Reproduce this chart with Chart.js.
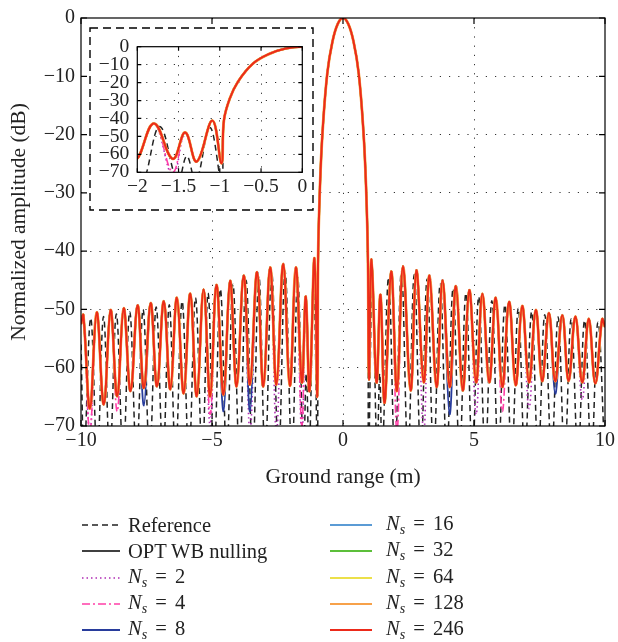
<!DOCTYPE html>
<html>
<head>
<meta charset="utf-8">
<script src="https://cdn.jsdelivr.net/npm/chart.js@4.4.1/dist/chart.umd.min.js"></script>
<style>
  html, body { margin: 0; padding: 0; background: #fff; }
  #wrap { position: relative; width: 618px; height: 642px; }
  #main { position: absolute; left: 0; top: 0; }
  #inset { position: absolute; left: 89px; top: 27px; background: #fff; }
  #legend { position: absolute; left: 0; top: 0; width: 618px; height: 642px; pointer-events: none;
            font-family: "Liberation Serif", "Times New Roman", serif; font-size: 20.5px; color: #222; }
  .item { position: absolute; height: 26px; display: flex; align-items: center; white-space: nowrap; }
  .item svg { margin-right: 8px; }
  .item sub { font-size: 14px; vertical-align: -4px; }
  .eq { word-spacing: 3px; }
</style>
</head>
<body>
<div id="wrap">
  <canvas id="main" width="618" height="642"></canvas>
  <canvas id="inset" width="225" height="184"></canvas>
  <div id="legend"></div>
</div>
<script>
// OPT WB nulling curve (Ns = 16 ... 246 lie on top of it): ground range (m) and amplitude (dB)
const optX = [-10, -9.91, -9.66, -9.40, -9.13, -8.87, -8.62, -8.37, -8.11, -7.84, -7.60, -7.34, -7.10, -6.84,
  -6.59, -6.34, -6.08, -5.83, -5.58, -5.32, -5.07, -4.83, -4.56, -4.31, -4.06, -3.79, -3.55, -3.28, -3.04,
  -2.78, -2.54, -2.28, -2.03, -1.80, -1.57, -1.42, -1.28, -1.09, -0.98, -0.95, -0.88, -0.78, -0.6, -0.4, -0.2,
  0, 0.2, 0.4, 0.6, 0.78, 0.88, 0.95, 0.99, 1.09, 1.28, 1.43, 1.59, 1.84, 2.06, 2.29, 2.58, 2.80, 3.08, 3.30,
  3.57, 3.80, 4.07, 4.31, 4.57, 4.82, 5.08, 5.32, 5.58, 5.83, 6.08, 6.34, 6.59, 6.84, 7.10, 7.36, 7.60, 7.86,
  8.10, 8.37, 8.61, 8.87, 9.13, 9.38, 9.63, 9.89, 10];
const optDb = [-52.5, -51, -67, -50.5, -66.3, -50.1, -64.9, -49.8, -64, -49.3, -63.5, -48.9, -63.2, -48.6,
  -63.7, -48, -64.4, -47.3, -64.9, -46.6, -64.9, -45.8, -64.6, -45.1, -63.2, -44.2, -62.9, -43.6, -63.2,
  -42.8, -62.9, -42.2, -63.1, -42.8, -62.5, -47.8, -64, -41.2, -65, -41, -29, -19.5, -9.5, -4, -1,
  0, -1, -4, -9.5, -19.5, -29, -41, -62, -41.4, -62.5, -47.5, -66, -43.5, -64, -42.6, -63.9, -43.3, -62.5, -44.2,
  -63.3, -45, -63.3, -46, -63.9, -46.7, -62.5, -47.3, -62.5, -48, -63.3, -48.7, -63, -49.4, -62.5, -50.1, -62.3, -50.6,
  -62.3, -51, -62.3, -51.2, -62.5, -51.6, -62.7, -51.7, -53];

// Reference (dashed): nulls fall below the -70 dB floor
const refX = [-10, -9.88, -9.63, -9.38, -9.14, -8.90, -8.65, -8.39, -8.14, -7.88, -7.63, -7.38, -7.13, -6.87,
  -6.63, -6.39, -6.14, -5.88, -5.63, -5.37, -5.15, -4.92, -4.68, -4.44, -4.20, -3.95, -3.70, -3.45, -3.21,
  -2.97, -2.72, -2.46, -2.21, -1.95, -1.73, -1.51, -1.40, -1.29, -1.12, -0.98, -0.95, -0.88, -0.78, -0.6, -0.4,
  -0.2, 0, 0.2, 0.4, 0.6, 0.78, 0.88, 0.95, 0.98, 1.12, 1.30, 1.40, 1.50, 1.74, 1.98, 2.23, 2.48, 2.72, 2.97,
  3.21, 3.46, 3.71, 3.96, 4.20, 4.45, 4.69, 4.94, 5.18, 5.43, 5.68, 5.93, 6.18, 6.44, 6.69, 6.94, 7.20, 7.45,
  7.70, 7.96, 8.21, 8.46, 8.71, 8.97, 9.22, 9.48, 9.73, 9.99];
const refDb = [-56, -75, -51.5, -75, -51.2, -75, -50.8, -75, -50.4, -75, -50, -75, -49.6, -75,
  -49.2, -75, -48.6, -75, -48, -75, -47.2, -75, -46.5, -75, -45.7, -75, -45, -75, -44.3,
  -75, -43.8, -75, -43.5, -75, -44.5, -75, -61, -75, -45, -75, -41, -29, -19.5, -9.5, -4,
  -1, 0, -1, -4, -9.5, -19.5, -29, -41, -75, -45, -75, -61, -75, -44.5, -75, -43.5, -75, -44, -75,
  -44.8, -75, -45.6, -75, -46.4, -75, -47.2, -75, -47.8, -75, -48.5, -75, -49.2, -75, -49.8, -75, -50.4, -75,
  -50.9, -75, -51.3, -75, -51.6, -75, -51.9, -75, -52.2, -75];

// Ns = 2, 4, 8 follow the OPT curve except at a few deeper nulls
const ns2DipX = [-9.66, -5.07, -3.55, -2.54, -1.57, 3.08, 5.08, 7.10, 9.13];
const ns2DipDb = [-71, -70, -71, -71, -72, -71, -68, -67, -65.5];
const ns4DipX = [-9.66, -8.62, -5.07, -1.57, 2.06, 6.08];
const ns4DipDb = [-71, -67.5, -68, -70, -71, -67.5];
const ns8DipX = [-7.60, -4.56, -3.55, 4.07, 8.10];
const ns8DipDb = [-66.5, -67.5, -67.5, -68, -64.5];

const seriesLabels = ["Reference", "OPT WB nulling", "Ns = 2", "Ns = 4", "Ns = 8",
  "Ns = 16", "Ns = 32", "Ns = 64", "Ns = 128", "Ns = 246"];
const seriesColors = ["#222222", "#000000", "#b02cb4", "#ff3fa8", "#283c9c",
  "#5b9bd5", "#5cbf3a", "#ece04a", "#f7a14a", "#ec2a1a"];

const xTicks = [-10, -5, 0, 5, 10];
const insetXTicks = [-2, -1.5, -1, -0.5, 0];

function toPoints(xs, ys) {
  return xs.map((x, i) => ({ x: x, y: ys[i] }));
}

function withDips(dipX, dipDb) {
  return optX.map((x, i) => {
    const k = dipX.indexOf(x);
    return { x: x, y: k >= 0 ? dipDb[k] : optDb[i] };
  });
}

function makeDatasets() {
  const optPts = toPoints(optX, optDb);
  const data = [toPoints(refX, refDb), optPts, withDips(ns2DipX, ns2DipDb), withDips(ns4DipX, ns4DipDb),
    withDips(ns8DipX, ns8DipDb), optPts, optPts, optPts, optPts, optPts];
  const dashes = [[6, 4], [], [1.5, 3], [8, 3, 2, 3], [], [], [], [], [], []];
  const widths = [1.5, 1.5, 1.6, 1.6, 1.8, 2, 2, 2.2, 2.8, 2];
  return data.map((d, i) => ({
    label: seriesLabels[i],
    data: d,
    borderColor: seriesColors[i],
    borderWidth: widths[i],
    borderDash: dashes[i],
    // red drawn last (on top), reference first
    order: 9 - i,
  }));
}

Chart.defaults.font.family = '"Liberation Serif", "Times New Roman", serif';
Chart.defaults.color = "#222";

const minus = (v) => (v < 0 ? "\u2212" + String(Math.abs(v)) : String(v));

// Box with inward ticks on all four sides (and optional dashed outer frame)
const framePlugin = {
  id: "frame",
  afterDraw(chart, args, opts) {
    const { ctx, chartArea: a, scales } = chart;
    const len = opts.tick || 6;
    ctx.save();
    ctx.strokeStyle = "#000";
    ctx.lineWidth = 1.2;
    ctx.strokeRect(a.left, a.top, a.right - a.left, a.bottom - a.top);
    ctx.beginPath();
    scales.x.ticks.forEach((t) => {
      const px = scales.x.getPixelForValue(t.value);
      ctx.moveTo(px, a.bottom); ctx.lineTo(px, a.bottom - len);
      ctx.moveTo(px, a.top); ctx.lineTo(px, a.top + len);
    });
    scales.y.ticks.forEach((t) => {
      const py = scales.y.getPixelForValue(t.value);
      ctx.moveTo(a.left, py); ctx.lineTo(a.left + len, py);
      ctx.moveTo(a.right, py); ctx.lineTo(a.right - len, py);
    });
    ctx.stroke();
    if (opts.dashedBox) {
      ctx.setLineDash([8, 5]);
      ctx.lineWidth = 1.4;
      ctx.strokeRect(1, 1, chart.width - 2, chart.height - 2);
    }
    ctx.restore();
  },
};

function gridColor(min, max) {
  return (c) => (c.tick && c.tick.value > min && c.tick.value < max ? "#333" : "rgba(0,0,0,0)");
}

function makeOptions(cfg) {
  return {
    responsive: false,
    animation: false,
    events: [],
    layout: { padding: cfg.padding },
    elements: { point: { radius: 0 }, line: { tension: 0.4, capBezierPoints: true } },
    plugins: {
      legend: { display: false },
      tooltip: { enabled: false },
      frame: { tick: cfg.tick, dashedBox: cfg.dashedBox },
    },
    scales: {
      x: {
        type: "linear",
        min: cfg.xMin,
        max: cfg.xMax,
        afterBuildTicks: (s) => { s.ticks = cfg.xTicks.map((v) => ({ value: v })); },
        ticks: { callback: minus, padding: cfg.xPad, maxRotation: 0, autoSkip: false,
                 font: { size: cfg.tickSize }, color: "#222" },
        grid: { color: gridColor(cfg.xMin, cfg.xMax), drawTicks: false, lineWidth: 1 },
        border: { display: false, dash: [1.2, 8] },
        title: cfg.xTitle
          ? { display: true, text: cfg.xTitle, font: { size: 21.5 }, padding: 0, color: "#222" }
          : { display: false },
        afterFit: (s) => { s.height = cfg.xHeight; },
      },
      y: {
        type: "linear",
        min: -70,
        max: 0,
        ticks: { stepSize: 10, callback: minus, padding: cfg.yPad, autoSkip: false,
                 font: { size: cfg.tickSize }, color: "#222" },
        grid: { color: gridColor(-70, 0), drawTicks: false, lineWidth: 1 },
        border: { display: false, dash: [1.2, 8] },
        title: cfg.yTitle
          ? { display: true, text: cfg.yTitle, font: { size: 21.5 }, padding: { top: 6, bottom: 0 }, color: "#222" }
          : { display: false },
        afterFit: (s) => { s.width = cfg.yWidth; },
      },
    },
  };
}

const mainChart = new Chart(document.getElementById("main"), {
  type: "line",
  data: { datasets: makeDatasets() },
  options: makeOptions({
    padding: { left: 0, right: 11, top: 12, bottom: 152 },
    xMin: -10, xMax: 10, xTicks: xTicks, xPad: 3, yPad: 6, tickSize: 20,
    xHeight: 64, yWidth: 81, tick: 6, dashedBox: false,
    xTitle: "Ground range (m)", yTitle: "Normalized amplitude (dB)",
  }),
  plugins: [framePlugin],
});

const insetChart = new Chart(document.getElementById("inset"), {
  type: "line",
  data: { datasets: makeDatasets() },
  options: makeOptions({
    padding: { left: 0, right: 11.7, top: 17, bottom: 0 },
    xMin: -2, xMax: 0, xTicks: insetXTicks, xPad: 3, yPad: 8, tickSize: 19.5,
    xHeight: 38.7, yWidth: 48.3, tick: 4, dashedBox: true,
  }),
  plugins: [framePlugin],
});

// Two-column legend below the axes, built from the chart's datasets
function buildLegend(chart) {
  const box = document.getElementById("legend");
  chart.data.datasets.forEach((ds, i) => {
    const col = i < 5 ? 0 : 1;
    const row = i % 5;
    const item = document.createElement("div");
    item.className = "item";
    item.style.left = (col === 0 ? 82 : 330) + "px";
    item.style.top = (512 + row * 26.3) + "px";
    const w = col === 0 ? 38 : 42;
    const dash = ds.borderDash && ds.borderDash.length ? ds.borderDash.join(" ") : "none";
    const svg = '<svg width="' + w + '" height="6"><line x1="0" y1="3" x2="' + w + '" y2="3" stroke="' +
      ds.borderColor + '" stroke-width="' + Math.min(ds.borderWidth, 2) + '" stroke-dasharray="' + dash + '"/></svg>';
    let text = ds.label;
    if (text.indexOf("Ns") === 0) {
      text = "<i>N</i><sub><i>s</i></sub><span class=\"eq\">" + text.slice(2) + "</span>";
    }
    item.innerHTML = svg + (col === 1 ? '<span style="margin-left:6px">' + text + "</span>" : "<span>" + text + "</span>");
    box.appendChild(item);
  });
}
buildLegend(mainChart);
</script>
</body>
</html>
